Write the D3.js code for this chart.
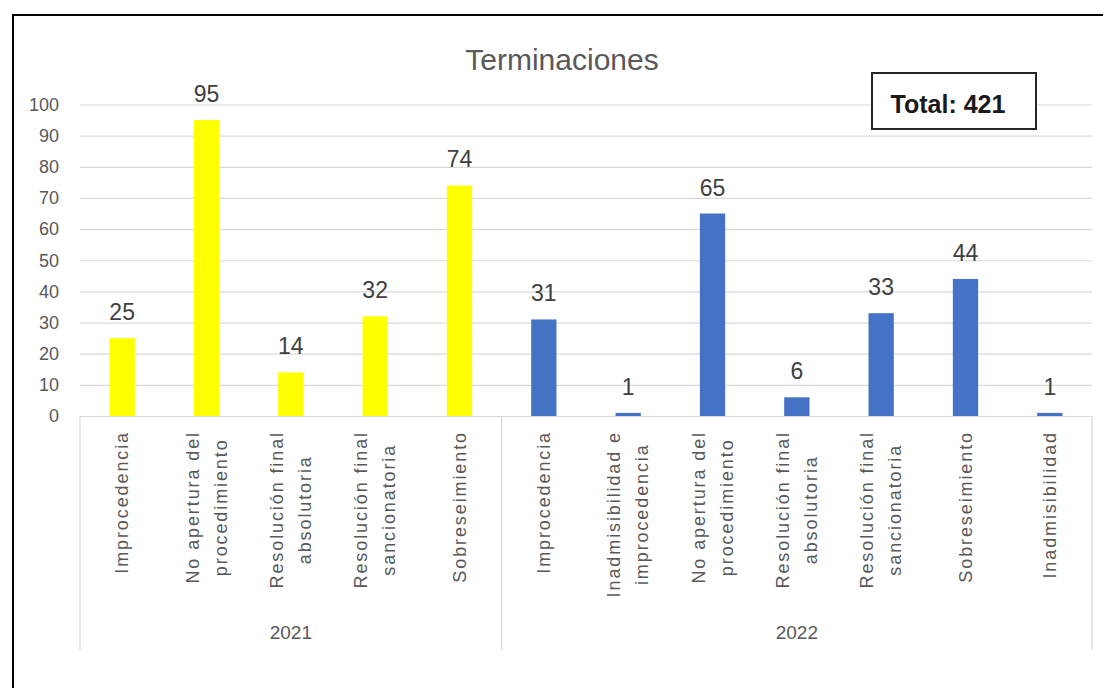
<!DOCTYPE html>
<html>
<head>
<meta charset="utf-8">
<script src="https://cdn.jsdelivr.net/npm/d3@7"></script>
<style>
  html, body { margin: 0; padding: 0; background: #ffffff; }
  svg { display: block; }
</style>
</head>
<body>
<svg id="chart" width="1103" height="688"></svg>
<script>
// ---- data ----
const chartTitle = "Terminaciones";
const totalLabel = "Total: 421";
const years = ["2021", "2022"];
const categories2021 = [
  ["Improcedencia"],
  ["No apertura del", "procedimiento"],
  ["Resolución final", "absolutoria"],
  ["Resolución final", "sancionatoria"],
  ["Sobreseimiento"]
];
const values2021 = [25, 95, 14, 32, 74];
const categories2022 = [
  ["Improcedencia"],
  ["Inadmisibilidad e", "improcedencia"],
  ["No apertura del", "procedimiento"],
  ["Resolución final", "absolutoria"],
  ["Resolución final", "sancionatoria"],
  ["Sobreseimiento"],
  ["Inadmisibilidad"]
];
const values2022 = [31, 1, 65, 6, 33, 44, 1];
const yTicks = [0, 10, 20, 30, 40, 50, 60, 70, 80, 90, 100];
const colors = { "2021": "#FFFF00", "2022": "#4472C4" };

// ---- build rows ----
const rows = [];
categories2021.forEach((c, i) => rows.push({ year: "2021", lines: c, value: values2021[i] }));
categories2022.forEach((c, i) => rows.push({ year: "2022", lines: c, value: values2022[i] }));
rows.forEach((r, i) => r.idx = i);

const svg = d3.select("#chart");
const plotLeft = 80, plotRight = 1092, plotTop = 104.5, plotBottom = 416;

const x = d3.scaleBand()
  .domain(rows.map(r => r.idx))
  .range([plotLeft, plotRight])
  .paddingInner(0.7)
  .paddingOuter(0.35);
const y = d3.scaleLinear().domain([0, 100]).range([plotBottom, plotTop]);

// outer frame (cropped on right/bottom)
svg.append("path")
  .attr("d", "M13,700 L13,15 L1110,15")
  .attr("fill", "none")
  .attr("stroke", "#000")
  .attr("stroke-width", 2);

// title
svg.append("text")
  .attr("x", 562)
  .attr("y", 70)
  .attr("text-anchor", "middle")
  .attr("font-family", "'Liberation Sans', Arial, sans-serif")
  .attr("font-size", 30)
  .attr("fill", "#595959")
  .text(chartTitle);

// y axis with gridlines
const yAxis = svg.append("g")
  .attr("transform", `translate(${plotLeft},0)`)
  .call(d3.axisLeft(y).tickValues(yTicks).tickSize(-(plotRight - plotLeft)).tickPadding(21).tickFormat(d3.format("d")));
yAxis.select(".domain").remove();
yAxis.selectAll(".tick line").attr("stroke", "#d9d9d9").attr("stroke-width", 1.2);
yAxis.selectAll(".tick text")
  .attr("font-family", "'Liberation Sans', Arial, sans-serif")
  .attr("font-size", 18)
  .attr("fill", "#595959");

// bars
svg.append("g").selectAll("rect")
  .data(rows)
  .join("rect")
  .attr("x", d => x(d.idx))
  .attr("width", x.bandwidth())
  .attr("y", d => y(d.value))
  .attr("height", d => y(0) - y(d.value))
  .attr("fill", d => colors[d.year]);

// data labels
svg.append("g").selectAll("text")
  .data(rows)
  .join("text")
  .attr("x", d => x(d.idx) + x.bandwidth() / 2)
  .attr("y", d => y(d.value) - 18)
  .attr("text-anchor", "middle")
  .attr("font-family", "'Liberation Sans', Arial, sans-serif")
  .attr("font-size", 23)
  .attr("fill", "#404040")
  .text(d => d.value);

// category axis group separators
const step = x.step();
const groupBounds = [plotLeft, plotLeft + step * categories2021.length, plotRight];
svg.append("g").selectAll("line")
  .data(groupBounds)
  .join("line")
  .attr("x1", d => d).attr("x2", d => d)
  .attr("y1", plotBottom).attr("y2", 650)
  .attr("stroke", "#d9d9d9")
  .attr("stroke-width", 1.2);

// category labels (rotated)
const labelTop = 431;
const lineH = 28;
const catG = svg.append("g").selectAll("g")
  .data(rows)
  .join("g")
  .attr("transform", d => `translate(${x(d.idx) + x.bandwidth() / 2},${labelTop}) rotate(-90)`);
catG.each(function(d) {
  const g = d3.select(this);
  const n = d.lines.length;
  const texts = d.lines.map((ln, i) => g.append("text")
    .attr("y", (i - (n - 1) / 2) * lineH)
    .attr("dy", "0.35em")
    .attr("text-anchor", "middle")
    .attr("font-family", "'Liberation Sans', Arial, sans-serif")
    .attr("font-size", 18)
    .attr("letter-spacing", 1.9)
    .attr("fill", "#595959")
    .text(ln));
  const maxLen = d3.max(texts, t => t.node().getComputedTextLength());
  texts.forEach(t => t.attr("x", -maxLen / 2));
});

// year labels
svg.append("g").selectAll("text")
  .data(years)
  .join("text")
  .attr("x", (d, i) => (groupBounds[i] + groupBounds[i + 1]) / 2)
  .attr("y", 639)
  .attr("text-anchor", "middle")
  .attr("font-family", "'Liberation Sans', Arial, sans-serif")
  .attr("font-size", 19)
  .attr("fill", "#595959")
  .text(d => d);

// total box
svg.append("rect")
  .attr("x", 872).attr("y", 73)
  .attr("width", 164).attr("height", 56)
  .attr("fill", "#fff")
  .attr("stroke", "#262626")
  .attr("stroke-width", 2);
svg.append("text")
  .attr("x", 948)
  .attr("y", 113)
  .attr("text-anchor", "middle")
  .attr("font-family", "'Liberation Sans', Arial, sans-serif")
  .attr("font-weight", "bold")
  .attr("font-size", 25)
  .attr("fill", "#1a1a1a")
  .text(totalLabel);
</script>
</body>
</html>
